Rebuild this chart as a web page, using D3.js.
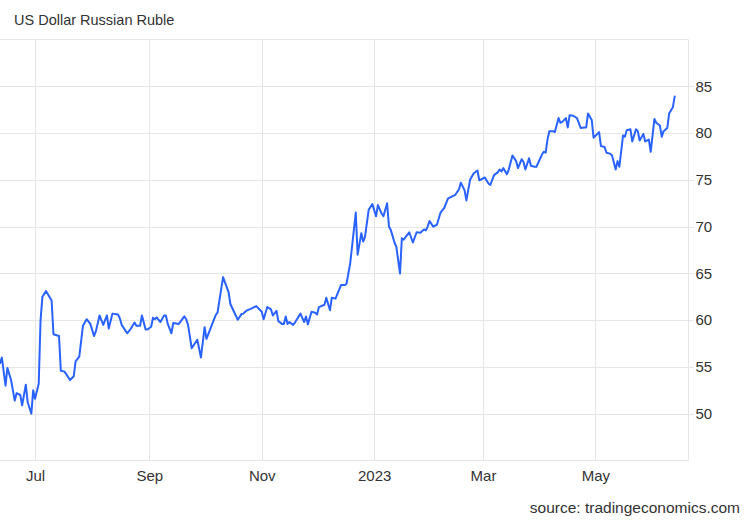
<!DOCTYPE html>
<html>
<head>
<meta charset="utf-8">
<script src="https://cdn.jsdelivr.net/npm/d3@7"></script>
<style>
  html, body { margin: 0; padding: 0; background: #fff; }
  svg { display: block; font-family: "Liberation Sans", Arial, sans-serif; }
</style>
</head>
<body>
<svg id="chart" width="750" height="520"></svg>
<script>
const title = "US Dollar Russian Ruble";
const source = "source: tradingeconomics.com";

const dates = [
"2022-06-12","2022-06-13","2022-06-15","2022-06-16","2022-06-18","2022-06-20","2022-06-21","2022-06-23","2022-06-24","2022-06-26",
"2022-06-27","2022-06-29","2022-06-30","2022-07-01","2022-07-03","2022-07-04","2022-07-05","2022-07-07","2022-07-10","2022-07-11",
"2022-07-14","2022-07-15","2022-07-17","2022-07-20","2022-07-22","2022-07-23","2022-07-25","2022-07-27","2022-07-29","2022-07-31",
"2022-08-02","2022-08-03","2022-08-05","2022-08-07","2022-08-09","2022-08-10","2022-08-12","2022-08-15","2022-08-16","2022-08-17",
"2022-08-20","2022-08-22","2022-08-24","2022-08-25","2022-08-27","2022-08-28","2022-08-30","2022-08-31","2022-09-02","2022-09-03",
"2022-09-04","2022-09-05","2022-09-07","2022-09-09","2022-09-10","2022-09-11","2022-09-13","2022-09-14","2022-09-17","2022-09-20",
"2022-09-21","2022-09-22","2022-09-24","2022-09-27","2022-09-28","2022-09-29","2022-10-01","2022-10-02","2022-10-07","2022-10-08",
"2022-10-11","2022-10-14","2022-10-15","2022-10-19","2022-10-21","2022-10-22","2022-10-24","2022-10-26","2022-10-29","2022-11-01",
"2022-11-02","2022-11-04","2022-11-06","2022-11-07","2022-11-09","2022-11-10","2022-11-12","2022-11-13","2022-11-14","2022-11-15",
"2022-11-16","2022-11-18","2022-11-19","2022-11-22","2022-11-24","2022-11-25","2022-11-26","2022-11-28","2022-11-30","2022-12-01",
"2022-12-02","2022-12-05","2022-12-06","2022-12-08","2022-12-09","2022-12-11","2022-12-14","2022-12-16","2022-12-17","2022-12-19",
"2022-12-22","2022-12-23","2022-12-25","2022-12-26","2022-12-27","2022-12-29","2022-12-31","2023-01-02","2023-01-03","2023-01-05",
"2023-01-06","2023-01-08","2023-01-09","2023-01-10","2023-01-12","2023-01-13","2023-01-15","2023-01-16","2023-01-17","2023-01-20",
"2023-01-22","2023-01-24","2023-01-26","2023-01-28","2023-01-29","2023-01-30","2023-01-31","2023-02-02","2023-02-04","2023-02-06",
"2023-02-08","2023-02-10","2023-02-12","2023-02-14","2023-02-16","2023-02-17","2023-02-19","2023-02-20","2023-02-22","2023-02-24",
"2023-02-26","2023-02-27","2023-03-02","2023-03-04","2023-03-05","2023-03-07","2023-03-09","2023-03-10","2023-03-11","2023-03-12",
"2023-03-14","2023-03-15","2023-03-17","2023-03-19","2023-03-20","2023-03-22","2023-03-23","2023-03-24","2023-03-26","2023-03-27",
"2023-03-29","2023-03-30","2023-04-02","2023-04-03","2023-04-04","2023-04-05","2023-04-06","2023-04-08","2023-04-09","2023-04-11",
"2023-04-12","2023-04-13","2023-04-15","2023-04-16","2023-04-17","2023-04-19","2023-04-21","2023-04-23","2023-04-25","2023-04-26",
"2023-04-27","2023-04-29","2023-04-30","2023-05-03","2023-05-04","2023-05-06","2023-05-07","2023-05-09","2023-05-10","2023-05-12",
"2023-05-13","2023-05-14","2023-05-16","2023-05-17","2023-05-18","2023-05-20","2023-05-21","2023-05-23","2023-05-24","2023-05-25",
"2023-05-27","2023-05-28","2023-05-30","2023-05-31","2023-06-02","2023-06-03","2023-06-05","2023-06-06","2023-06-07","2023-06-09",
"2023-06-10","2023-06-12","2023-06-13"
];

const values = [
55.4,56.0,53.0,54.9,53.6,51.4,52.2,52.0,50.9,53.1,
51.25,50.0,52.5,51.6,53.2,60.0,62.5,63.1,62.1,58.5,
58.3,54.6,54.5,53.6,54.0,55.6,56.1,59.4,60.1,59.6,
58.3,58.8,60.5,59.5,60.5,59.1,60.7,60.6,60.2,59.5,
58.6,59.1,59.75,59.4,59.4,60.5,59.0,59.0,59.3,60.25,
60.1,60.3,59.8,60.5,60.5,59.6,58.6,59.7,59.6,60.4,
60.1,59.5,57.0,57.9,57.0,56.0,59.25,58.0,60.55,60.8,
64.6,63.0,61.7,60.05,60.65,60.7,61.05,61.2,61.5,60.9,
60.1,61.4,61.15,60.5,61.0,59.9,59.6,59.6,60.4,59.6,
59.8,59.5,59.75,60.7,59.8,60.4,59.55,60.9,60.8,60.6,
61.4,61.65,62.4,61.05,62.4,62.3,63.75,63.75,63.9,66.1,
71.5,67.0,69.3,68.4,68.9,71.8,72.4,71.1,72.3,71.4,
71.1,72.5,70.0,69.65,68.3,67.85,65.0,68.75,68.6,69.4,
68.3,69.4,69.35,69.7,69.6,70.0,70.6,70.0,70.2,71.5,
72.0,73.0,73.2,73.4,74.0,74.7,73.9,72.8,75.0,75.7,
76.0,74.95,75.25,74.6,74.45,75.5,75.8,76.1,75.9,76.25,
75.6,76.1,77.6,77.0,76.25,77.2,76.9,76.1,77.3,76.5,
76.4,76.4,77.7,78.0,77.9,79.3,80.2,80.2,80.1,81.6,
81.1,81.2,81.6,80.6,81.9,81.85,81.6,80.55,80.6,80.6,
82.1,81.4,79.5,80.1,78.6,78.5,77.9,77.8,77.6,76.1,
77.0,76.4,79.75,79.6,80.3,80.4,79.1,80.4,80.2,79.2,
79.9,79.1,79.3,78.0,81.5,81.1,80.8,79.6,80.2,80.55,
82.1,82.75,83.9
];

const yTicks = [50, 55, 60, 65, 70, 75, 80, 85];
const xTickDates = ["2022-07-01","2022-09-01","2022-11-01","2023-01-01","2023-03-01","2023-05-01"];
const xTickLabels = ["Jul","Sep","Nov","2023","Mar","May"];

(function () {
  const parse = d3.timeParse("%Y-%m-%d");
  const data = dates.map((d, i) => ({ date: parse(d), value: values[i] }));

  const svg = d3.select("#chart");
  const pLeft = 0, pRight = 688.5, pTop = 39.5, pBottom = 460.5;
  const gridColor = "#e6e6e6";
  const textColor = "#333333";

  const x = d3.scaleTime()
    .domain([new Date(2022, 5, 12), new Date(2023, 5, 20, 12)])
    .range([pLeft, pRight]);
  const y = d3.scaleLinear().domain([45, 90]).range([pBottom, pTop]);

  svg.append("text")
    .attr("x", 14).attr("y", 25)
    .attr("font-size", 14.5).attr("fill", textColor)
    .text(title);

  svg.append("line")
    .attr("x1", 0).attr("x2", pRight).attr("y1", pTop).attr("y2", pTop)
    .attr("stroke", gridColor).attr("stroke-width", 1);

  svg.append("g").selectAll("line").data(yTicks).join("line")
    .attr("x1", pLeft).attr("x2", pRight + 5)
    .attr("y1", d => Math.round(y(d)) + 0.5).attr("y2", d => Math.round(y(d)) + 0.5)
    .attr("stroke", gridColor).attr("stroke-width", 1);

  const xt = xTickDates.map(parse);
  svg.append("g").selectAll("line").data(xt).join("line")
    .attr("x1", d => Math.round(x(d)) + 0.5).attr("x2", d => Math.round(x(d)) + 0.5)
    .attr("y1", pTop).attr("y2", pBottom)
    .attr("stroke", gridColor).attr("stroke-width", 1);

  svg.append("line")
    .attr("x1", pRight).attr("x2", pRight).attr("y1", pTop).attr("y2", pBottom)
    .attr("stroke", gridColor).attr("stroke-width", 1);
  svg.append("line")
    .attr("x1", pLeft).attr("x2", pRight).attr("y1", pBottom).attr("y2", pBottom)
    .attr("stroke", gridColor).attr("stroke-width", 1);

  const yAxis = d3.axisRight(y).tickValues(yTicks).tickSize(0).tickPadding(0).tickFormat(d3.format("d"));
  const gy = svg.append("g").attr("transform", `translate(${pRight + 7},0)`).call(yAxis);
  gy.select(".domain").remove();
  gy.selectAll("text").attr("font-size", 15).attr("fill", textColor)
    .attr("font-family", "'Liberation Sans', Arial, sans-serif");

  const xAxis = d3.axisBottom(x).tickValues(xt).tickSize(0).tickPadding(0)
    .tickFormat((d, i) => xTickLabels[i]);
  const gx = svg.append("g").attr("transform", `translate(0,${pBottom + 10})`).call(xAxis);
  gx.select(".domain").remove();
  gx.selectAll("text").attr("font-size", 15).attr("fill", textColor)
    .attr("font-family", "'Liberation Sans', Arial, sans-serif");

  const line = d3.line().x(d => x(d.date)).y(d => y(d.value));
  svg.append("path").datum(data)
    .attr("d", line)
    .attr("fill", "none")
    .attr("stroke", "#2962ff")
    .attr("stroke-width", 2)
    .attr("stroke-linejoin", "round")
    .attr("stroke-linecap", "round");

  svg.append("text")
    .attr("x", 740).attr("y", 513)
    .attr("text-anchor", "end")
    .attr("font-size", 15.5).attr("fill", textColor)
    .text(source);
})();
</script>
</body>
</html>
